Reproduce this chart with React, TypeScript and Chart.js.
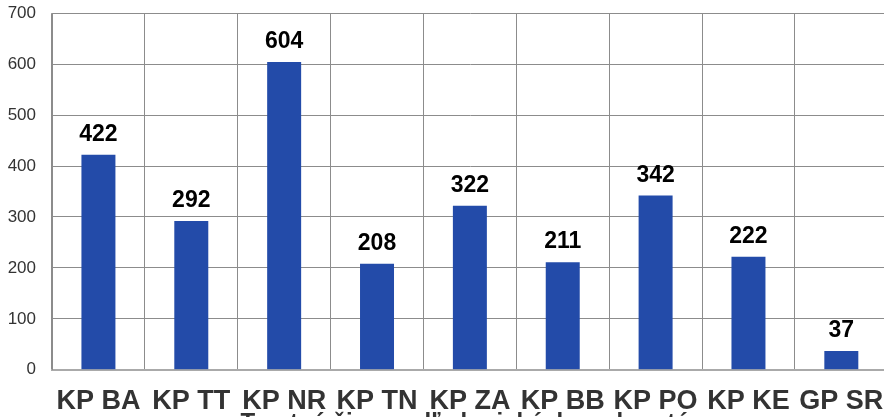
import React, { useEffect, useRef } from "react";
import { Chart, registerables } from "chart.js";

Chart.register(...registerables);

const categories = ["KP BA", "KP TT", "KP NR", "KP TN", "KP ZA", "KP BB", "KP PO", "KP KE", "GP SR"];
const values = [422, 292, 604, 208, 322, 211, 342, 222, 37];
const yTicks = [0, 100, 200, 300, 400, 500, 600, 700];
const axisTitle = "Trestné činy podľa krajských prokuratúr";

const FONT = "'Liberation Sans', Arial, sans-serif";

const valueLabels = {
  id: "valueLabels",
  afterDatasetsDraw(chart: any) {
    const ctx = chart.ctx;
    const meta = chart.getDatasetMeta(0);
    ctx.save();
    ctx.font = `bold 23px ${FONT}`;
    ctx.fillStyle = "#000";
    ctx.textAlign = "center";
    ctx.textBaseline = "alphabetic";
    meta.data.forEach((bar: any, i: number) => {
      ctx.fillText(String(chart.data.datasets[0].data[i]), bar.x, bar.y - 14);
    });
    ctx.restore();
  },
};

export default function App() {
  const ref = useRef<HTMLCanvasElement>(null);
  useEffect(() => {
    const chart = new Chart(ref.current!, {
      type: "bar",
      data: {
        labels: categories,
        datasets: [
          {
            data: values,
            backgroundColor: "#234ba9",
            barPercentage: 0.366,
            categoryPercentage: 1,
          },
        ],
      },
      options: {
        responsive: false,
        animation: false,
        devicePixelRatio: 1,
        layout: { padding: { left: 0, right: 12, top: 5, bottom: 9 } },
        plugins: { legend: { display: false }, tooltip: { enabled: false } },
        scales: {
          x: {
            grid: { color: "#8c8c8c", lineWidth: 1, drawTicks: false, offset: true },
            border: { display: true, color: "#aaaaaa", width: 2 },
            ticks: {
              color: "#333",
              font: { family: FONT, size: 27, weight: "bold" },
              padding: 16,
              autoSkip: false,
              maxRotation: 0,
            },
            title: {
              display: true,
              text: axisTitle,
              color: "#333",
              font: { family: FONT, size: 24, weight: "bold" },
              padding: { top: -25, bottom: 0 },
            },
          },
          y: {
            min: 0,
            max: 700,
            afterBuildTicks: (axis: any) => {
              axis.ticks = yTicks.map((v) => ({ value: v }));
            },
            afterFit: (axis: any) => {
              axis.width = 52;
            },
            grid: { color: "#8c8c8c", lineWidth: 1, drawTicks: false },
            border: { display: true, color: "#8c8c8c", width: 1 },
            ticks: {
              color: "#333",
              font: { family: FONT, size: 17 },
              padding: 16,
            },
          },
        },
      },
      plugins: [valueLabels],
    });
    return () => chart.destroy();
  }, []);
  return (
    <div style={{ position: "absolute", left: 0, top: -13 }}>
      <canvas ref={ref} width={900} height={460} style={{ display: "block" }} />
    </div>
  );
}
